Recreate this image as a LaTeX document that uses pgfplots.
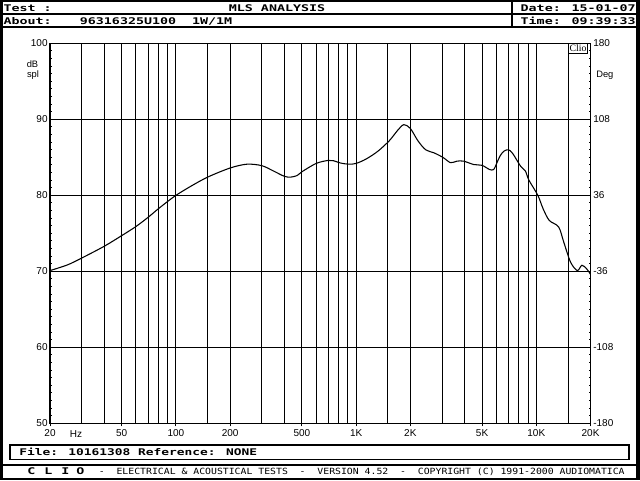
\documentclass[border=0pt]{standalone}
\usepackage{fontspec}
\usepackage{pgfplots}
\pgfplotsset{compat=1.18}
\setmainfont{Liberation Sans}
\newfontfamily\hdr{DejaVu Sans Mono}[FakeStretch=1.45]
\newfontfamily\filef{DejaVu Sans Mono}[FakeStretch=1.40]
\newfontfamily\ftr{DejaVu Sans Mono}[FakeStretch=1.15]
\newfontfamily\clio{Liberation Serif}
\newcommand\hdrf{\hdr\bfseries\fontsize{6.9pt}{8pt}\selectfont}
\newcommand\filefont{\filef\bfseries\fontsize{6.9pt}{8pt}\selectfont}
\newcommand\ftrf{\ftr\fontsize{6.4pt}{7pt}\selectfont}
\newcommand\axf{\fontsize{7.5pt}{8.5pt}\selectfont}
\newcommand\titf{\fontsize{7pt}{8pt}\selectfont}
\newcommand\cliof{\clio\fontsize{7.3pt}{8pt}\selectfont}

\pgfplotstableread{
f dB
20 70.1
25 70.85
30 71.75
40 73.3
50 74.7
60 75.9
70 77.1
80 78.25
90 79.2
100 80.0
120 81.15
150 82.4
200 83.6
248 84.1
300 83.9
348 83.2
400 82.5
433 82.4
470 82.6
500 83.1
600 84.2
700 84.6
750 84.55
820 84.25
909 84.1
1000 84.2
1140 84.8
1320 85.8
1530 87.2
1700 88.55
1840 89.3
2000 88.8
2200 87.2
2430 86.0
2700 85.6
3030 85.0
3340 84.3
3630 84.5
3950 84.5
4500 84.05
5000 83.95
5500 83.4
5800 83.4
6050 84.3
6300 85.2
6600 85.8
7000 86.0
7400 85.5
8200 83.8
8700 83.2
9100 82.0
10200 80.0
10900 78.25
11800 76.7
13300 75.85
14200 73.85
15500 71.2
16900 70.1
17900 70.8
19000 70.35
20000 69.6
}\response

\begin{document}
\begin{tikzpicture}
\path[use as bounding box] (0,0) rectangle (480pt,360pt);
\fill[white] (0,0) rectangle (480pt,360pt);

\begin{axis}[
  at={(37.5pt,42.5pt)}, anchor=south west,
  scale only axis, width=405.4pt, height=285pt,
  xmode=log, log basis x=10,
  xmin=20, xmax=20000, ymin=50, ymax=100,
  xtick={20,50,100,200,500,1000,2000,5000,10000,20000},
  xticklabels={20,50,100,200,500,1K,2K,5K,10K,20K},
  minor xtick={30,40,60,70,80,90,150,300,400,600,700,800,900,1500,3000,4000,6000,7000,8000,9000,15000},
  xmajorgrids, xminorgrids, ymajorgrids,
  major grid style={black, line width=0.75pt},
  minor grid style={black, line width=0.75pt},
  ytick={50,60,70,80,90,100},
  yticklabels={50,60,70,80,90,100},
  minor y tick num=9,
  xtick pos=left, ytick pos=left,
  xtick align=outside, ytick align=inside,
  major tick length=2.25pt, minor tick length=1.5pt,
  tick style={black, line width=0.75pt},
  minor x tick style={draw=none},
  axis line style={black, line width=0.9pt},
  ticklabel style={font=\axf, text=black},
  yticklabel style={inner xsep=1.6pt, inner ysep=0pt},
  xticklabel style={inner ysep=0pt, yshift=-2.3pt, text height=5.4pt, text depth=0pt},
]
\addplot[black, line width=0.8pt, smooth] table[x=f, y=dB] {\response};
\end{axis}

\begin{axis}[
  at={(37.5pt,42.5pt)}, anchor=south west,
  scale only axis, width=405.4pt, height=285pt,
  xmode=log, xmin=20, xmax=20000, ymin=-180, ymax=180,
  axis x line=none, axis y line*=right,
  ytick={-180,-108,-36,36,108,180},
  yticklabels={-180,-108,-36,36,108,180},
  minor y tick num=9,
  ytick align=inside,
  major tick length=2.25pt, minor tick length=1.5pt,
  tick style={black, line width=0.75pt},
  axis line style={black, line width=0.9pt},
  ticklabel style={font=\axf, text=black},
  yticklabel style={inner xsep=1.9pt, inner ysep=0pt},
]
\end{axis}

\begin{scope}[x=0.75pt, y=-0.75pt, yshift=360pt]
  % frame
  \fill[black] (0,0) rectangle (3,480);
  \fill[black] (636,0) rectangle (640,480);
  \fill[black] (0,0) rectangle (640,1.7);
  \fill[black] (0,477.5) rectangle (640,480);
  \fill[black] (0,13.3) rectangle (640,14.7);
  \fill[black] (0,25.7) rectangle (640,27.7);
  \fill[black] (511,0) rectangle (512.7,27);
  \fill[black] (0,464) rectangle (640,466);
  \draw[black, line width=0.9pt] (10,445) rectangle (629,459.3);
  % header text
  \node[anchor=base west, inner sep=0] at (3.3,11.7) {\hdrf Test :};
  \node[anchor=base west, inner sep=0] at (228.6,11.7) {\hdrf MLS ANALYSIS};
  \node[anchor=base west, inner sep=0] at (3.3,24) {\hdrf About:};
  \node[anchor=base west, inner sep=0] at (79.6,24) {\hdrf 96316325U100};
  \node[anchor=base west, inner sep=0] at (191.8,24) {\hdrf 1W/1M};
  \node[anchor=base west, inner sep=0] at (520.4,11.7) {\hdrf Date: 15-01-07};
  \node[anchor=base west, inner sep=0] at (520.4,24) {\hdrf Time: 09:39:33};
  % file line
  \node[anchor=base west, inner sep=0] at (19,455.7) {\filefont File: 10161308 Reference: NONE};
  % footer
  \node[anchor=base, inner sep=0] at (31.3,474.5) {\hdrf C};
  \node[anchor=base, inner sep=0] at (48.5,474.5) {\hdrf L};
  \node[anchor=base, inner sep=0] at (65.3,474.5) {\hdrf I};
  \node[anchor=base, inner sep=0] at (80.5,474.5) {\hdrf O};
  \node[anchor=base west, inner sep=0] at (98.6,474.5) {\ftrf -\ \ ELECTRICAL \& ACOUSTICAL TESTS\ \ -\ \ VERSION 4.52\ \ -\ \ COPYRIGHT (C) 1991-2000 AUDIOMATICA};
  % axis titles
  \node[anchor=base west, inner sep=0] at (26.5,67.8) {\titf dB};
  \node[anchor=base west, inner sep=0] at (26.8,77.8) {\titf spl};
  \node[anchor=base west, inner sep=0] at (596,77.8) {\titf Deg};
  \node[anchor=base, inner sep=0] at (76,437) {\axf Hz};
  % Clio box
  \filldraw[fill=white, draw=black, line width=0.75pt] (568.5,43.3) rectangle (587.5,53.5);
  \node[anchor=base, inner sep=0] at (578,51.5) {\cliof Clio};
\end{scope}
\end{tikzpicture}
\end{document}
